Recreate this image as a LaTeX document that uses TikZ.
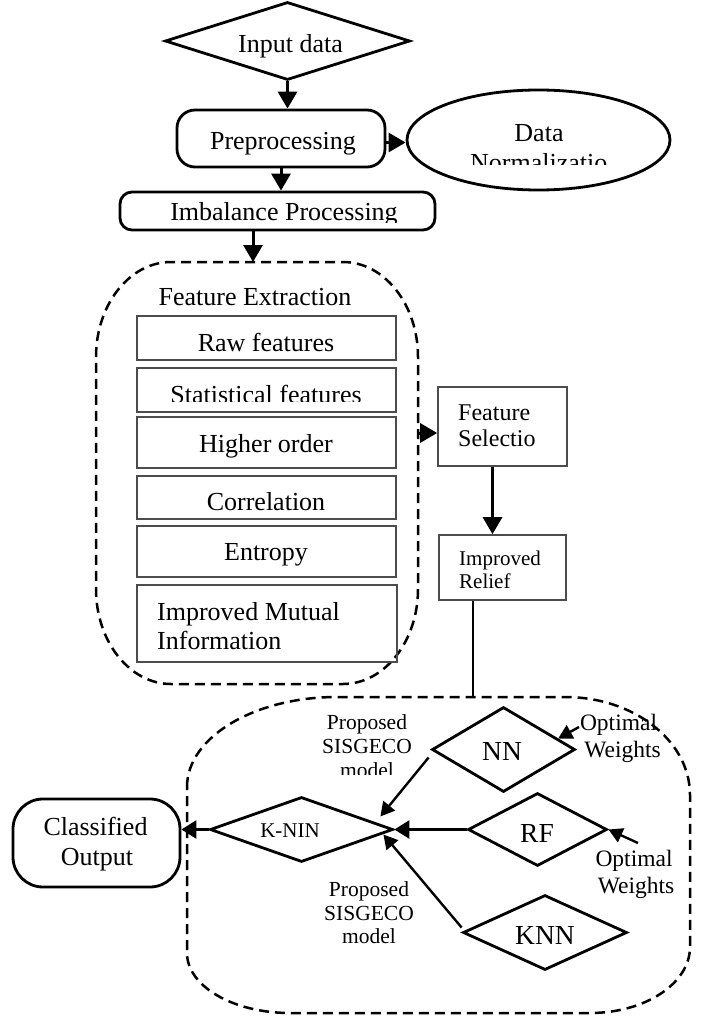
\documentclass[tikz,border=0pt]{standalone}
\usepackage{fontspec}
\setmainfont{Liberation Serif}
\usetikzlibrary{arrows.meta,shapes.geometric,calc}
\newcommand\fsz[1]{\fontsize{#1}{#1}\selectfont}
\begin{document}
\begin{tikzpicture}[x=1pt,y=-1pt,
  txt/.style={inner sep=0pt, anchor=base, font=\fsz{26}},
  txtl/.style={inner sep=0pt, anchor=base west, font=\fsz{26}},
  dia/.style={shape=diamond, draw, line width=2.8pt, inner sep=0pt},
  rbox/.style={shape=rectangle, draw, line width=2.8pt, inner sep=0pt},
  thinbox/.style={shape=rectangle, draw=black!70, line width=1.6pt, inner sep=0pt},
  arr/.style={line width=3pt, -{Triangle[length=17pt,width=19pt]}},
  arrm/.style={line width=2.8pt, -{Triangle[length=15pt,width=18pt]}},
  arrthin/.style={line width=2.4pt, -{Triangle[length=14pt,width=15pt]}},
  plain/.style={line width=2.6pt},
  dashregion/.style={draw, line width=2.5pt, dash pattern=on 10pt off 6pt}]

\path[fill=white] (0,0) rectangle (702,1016);

% ---------- top part ----------
\node[dia, minimum width=245pt, minimum height=78pt] (inp) at (287.5,41) {};
\node[txt] (inptxt) at (290.5,53) {Input data};

\node[rbox, rounded corners=18pt, minimum width=208pt, minimum height=57pt] (pre) at (281,138.5) {};
\node[txt] (pretxt) at (283,150) {Preprocessing};

\node[shape=ellipse, draw, line width=2.8pt, inner sep=0pt, minimum width=263pt, minimum height=100pt] (dn) at (538.5,140) {};
\node[txt] (dntxt1) at (539,142) {Data};
\begin{scope}
  \clip (440,150) rectangle (640,165);
  \node[txtl] (dntxt2) at (470,172) {Normalizatio};
\end{scope}

\node[rbox, rounded corners=12pt, minimum width=315pt, minimum height=38pt] (imb) at (277.5,211) {};
\begin{scope}
  \clip (130,195) rectangle (430,223);
  \node[txt] (imbtxt) at (284,221) {Imbalance Processing};
\end{scope}

% ---------- feature extraction ----------
\path[dashregion] (96,357) .. controls (96,304.6) and (129.6,262) .. (171,262)
  -- (343,262) .. controls (384.4,262) and (418,304.6) .. (418,357)
  -- (418,589) .. controls (418,641.4) and (384.4,684) .. (343,684)
  -- (171,684) .. controls (129.6,684) and (96,641.4) .. (96,589) -- cycle;
\coordinate (fetop) at (253,262);
\coordinate (feright) at (418,433);

\node[txt] (fetxt) at (255,305) {Feature Extraction};

\node[thinbox, minimum width=259pt, minimum height=44pt] (raw) at (266.5,338) {};
\node[txt] (rawtxt) at (266,351) {Raw features};

\node[thinbox, minimum width=259pt, minimum height=44pt] (stat) at (266.5,390) {};
\begin{scope}
  \clip (140,370) rectangle (394,401.5);
  \node[txt] (stattxt) at (266,403.5) {Statistical features};
\end{scope}

\node[thinbox, minimum width=259pt, minimum height=51pt] (high) at (266.5,442.5) {};
\node[txt] (hightxt) at (266,452) {Higher order};

\node[thinbox, minimum width=259pt, minimum height=43pt] (corr) at (266.5,497.5) {};
\node[txt] (corrtxt) at (266,510) {Correlation};

\node[thinbox, minimum width=259pt, minimum height=51pt] (ent) at (266.5,551.5) {};
\node[txt] (enttxt) at (266,560) {Entropy};

\node[thinbox, minimum width=260pt, minimum height=77pt] (imi) at (267,623.5) {};
\node[txtl] (imitxt1) at (157,620) {Improved Mutual};
\node[txtl] (imitxt2) at (157,649) {Information};

% ---------- selection ----------
\node[thinbox, minimum width=129pt, minimum height=79pt] (fs) at (502.5,426.5) {};
\node[txtl, font=\fsz{24}] (fstxt1) at (458,420) {Feature};
\node[txtl, font=\fsz{24}] (fstxt2) at (458,446) {Selectio};

\node[thinbox, minimum width=127pt, minimum height=65pt] (ir) at (502.5,567.5) {};
\node[txtl, font=\fsz{21}] (irtxt1) at (459,565) {Improved};
\node[txtl, font=\fsz{21}] (irtxt2) at (459,588) {Relief};

% ---------- classification region ----------
\path[dashregion] (187,787) .. controls (187,737.3) and (254.2,697) .. (337,697)
  -- (565,697) .. controls (634,697) and (690,740.9) .. (690,795)
  -- (690,947) .. controls (690,983.4) and (645.2,1013) .. (590,1013)
  -- (290,1013) .. controls (233.1,1013) and (187,986.1) .. (187,953) -- cycle;
\coordinate (cltop) at (473,697);

\node[rbox, rounded corners=30pt, minimum width=167pt, minimum height=88pt] (co) at (96.5,843) {};
\node[txt] (cotxt1) at (95.5,835) {Classified};
\node[txt] (cotxt2) at (97,865) {Output};

\node[dia, minimum width=183pt, minimum height=65pt] (knin) at (301.5,829.5) {};
\node[txt, font=\fsz{21}] (knintxt) at (290,837) {K-NIN};

\node[dia, minimum width=143pt, minimum height=85pt] (nn) at (503.5,749.5) {};
\node[txt, font=\fsz{27.5}] (nntxt) at (502,760) {NN};

\node[dia, minimum width=139pt, minimum height=73pt] (rf) at (537.5,829.5) {};
\node[txt, font=\fsz{27.5}] (rftxt) at (537,842) {RF};

\node[dia, minimum width=164pt, minimum height=75pt] (knn) at (545,932.5) {};
\node[txt, font=\fsz{27.5}] (knntxt) at (545,944) {KNN};

\node[txt, font=\fsz{21.5}] (p1a) at (367,729) {Proposed};
\node[txt, font=\fsz{21.5}] (p1b) at (367,753) {SISGECO};
\begin{scope}
  \clip (320,760) rectangle (420,774);
  \node[txt, font=\fsz{21.5}] (p1c) at (367,777) {model};
\end{scope}

\node[txt, font=\fsz{21.5}] (p2a) at (369,896) {Proposed};
\node[txt, font=\fsz{21.5}] (p2b) at (369,920) {SISGECO};
\node[txt, font=\fsz{21.5}] (p2c) at (369,943) {model};

\node[txt, font=\fsz{23.5}] (o1a) at (618.5,730) {Optimal};
\node[txt, font=\fsz{23.5}] (o1b) at (622.5,757) {Weights};
\node[txt, font=\fsz{23.5}] (o2a) at (634,866) {Optimal};
\node[txt, font=\fsz{23.5}] (o2b) at (636,893) {Weights};
\coordinate (o1) at (579,727);
\coordinate (o2) at (638,843);

% ---------- connectors ----------
\draw[arr] (inp.south) -- (inp.south |- pre.north);
\draw[arr] ([yshift=-4pt]pre.east) -- ([yshift=-4pt]pre.east -| dn.west);
\draw[arr] (pre.south) -- (pre.south |- imb.north);
\draw[arr] (imb.south -| fetop) -- (fetop);
\draw[arr] (feright) -- (feright -| fs.west);
\draw[arr] ([xshift=-10pt]fs.south) -- ([xshift=-10pt]fs.south |- ir.north);
\draw[plain] (cltop |- ir.south) -- (cltop);

\draw[arrthin] ($(nn.west)+(-2,8)$) -- ($(knin.east)+(-14,-13)$);
\draw[arrm] (rf.west) -- (knin.east);
\draw[arrthin] ($(knn.west)+(0,-5)$) -- ($(knin.east)+(-11,5)$);
\draw[arrm] (knin.west) -- (knin.west -| co.east);
\draw[arrthin] (o1) -- ($(nn.north)!0.75!(nn.east)$);
\draw[arrthin] (o2) -- (rf.east);
\end{tikzpicture}
\end{document}
